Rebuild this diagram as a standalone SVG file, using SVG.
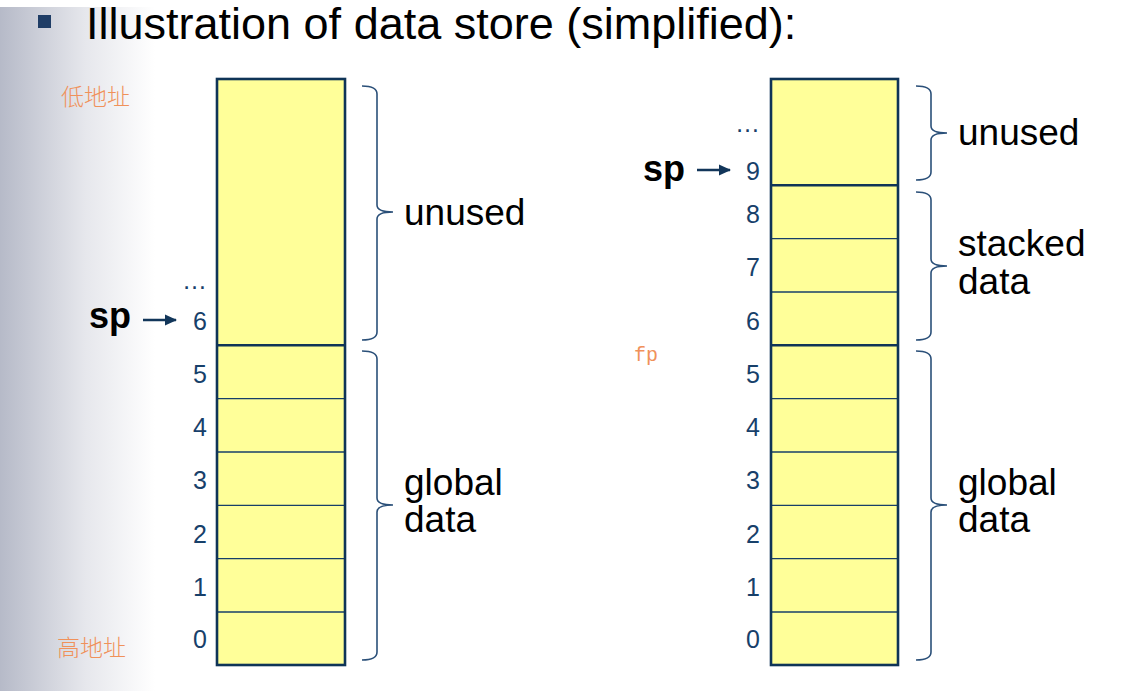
<svg xmlns="http://www.w3.org/2000/svg" width="1137" height="691" viewBox="0 0 1137 691">
<defs>
<linearGradient id="bg" x1="0" y1="0" x2="1" y2="0">
<stop offset="0" stop-color="#b6bac8"/>
<stop offset="0.55" stop-color="#e6e7ec"/>
<stop offset="1" stop-color="#ffffff"/>
</linearGradient>
<marker id="ah" viewBox="0 0 12 12" refX="11" refY="6" markerWidth="12" markerHeight="12" orient="auto" markerUnits="userSpaceOnUse">
<path d="M0,0.5 L12,6 L0,11.5 z" fill="#12365a"/>
</marker>
<style>
.outer{fill:none;stroke:#0f3457;stroke-width:2.6}
.thick{stroke:#0f3457;stroke-width:2.6}
.thin{stroke:#173f68;stroke-width:1.3}
.num{font-family:"Liberation Sans",Arial,sans-serif;font-size:25px;fill:#17406a;text-anchor:end}
.lbl{font-family:"Liberation Sans",Arial,sans-serif;font-size:37px;fill:#000}
.sp{font-family:"Liberation Sans",Arial,sans-serif;font-size:36px;font-weight:bold;fill:#000}
.cn{font-family:"Noto Sans CJK SC",sans-serif;font-size:23px;font-weight:300;fill:#f0915a}
.brace{fill:none;stroke:#2b5079;stroke-width:1.6}
.arrow{stroke:#12365a;stroke-width:2.4;fill:none}
</style>
</defs>
<rect x="0" y="0" width="1137" height="691" fill="#fff"/>
<rect x="0" y="7" width="155" height="684" fill="url(#bg)"/>

<g id="title">
<rect x="38" y="15" width="13" height="13" fill="#1f3d66"/>
<text x="86" y="39" font-family="Liberation Sans,Arial,sans-serif" font-size="45" fill="#000">Illustration of data store (simplified):</text>
</g>

<g id="addr-labels">
<text class="cn" x="61" y="105">低地址</text>
<text class="cn" x="57" y="656">高地址</text>
<text x="634" y="361" font-family="Liberation Mono,monospace" font-size="20" fill="#f0915a">fp</text>
</g>

<g id="left-stack">
<rect x="217" y="79" width="128" height="586" fill="#ffff99"/>
<line class="thin" x1="217" y1="398.7" x2="345" y2="398.7"/>
<line class="thin" x1="217" y1="452" x2="345" y2="452"/>
<line class="thin" x1="217" y1="505.3" x2="345" y2="505.3"/>
<line class="thin" x1="217" y1="558.7" x2="345" y2="558.7"/>
<line class="thin" x1="217" y1="612" x2="345" y2="612"/>
<line class="thick" x1="217" y1="345.3" x2="345" y2="345.3"/>
<rect class="outer" x="217" y="79" width="128" height="586"/>
<text class="num" x="207" y="289">…</text>
<text class="num" x="207" y="330">6</text>
<text class="num" x="207" y="383">5</text>
<text class="num" x="207" y="436">4</text>
<text class="num" x="207" y="489">3</text>
<text class="num" x="207" y="543">2</text>
<text class="num" x="207" y="596">1</text>
<text class="num" x="207" y="648">0</text>
<text class="sp" x="89" y="328">sp</text>
<line class="arrow" x1="143" y1="320" x2="176" y2="320" marker-end="url(#ah)"/>
</g>

<g id="right-stack">
<rect x="771" y="79" width="127" height="586" fill="#ffff99"/>
<line class="thin" x1="771" y1="238.7" x2="898" y2="238.7"/>
<line class="thin" x1="771" y1="292" x2="898" y2="292"/>
<line class="thin" x1="771" y1="398.7" x2="898" y2="398.7"/>
<line class="thin" x1="771" y1="452" x2="898" y2="452"/>
<line class="thin" x1="771" y1="505.3" x2="898" y2="505.3"/>
<line class="thin" x1="771" y1="558.7" x2="898" y2="558.7"/>
<line class="thin" x1="771" y1="612" x2="898" y2="612"/>
<line class="thick" x1="771" y1="185.3" x2="898" y2="185.3"/>
<line class="thick" x1="771" y1="345.3" x2="898" y2="345.3"/>
<rect class="outer" x="771" y="79" width="127" height="586"/>
<text class="num" x="760" y="132">…</text>
<text class="num" x="760" y="180">9</text>
<text class="num" x="760" y="223">8</text>
<text class="num" x="760" y="276">7</text>
<text class="num" x="760" y="330">6</text>
<text class="num" x="760" y="383">5</text>
<text class="num" x="760" y="436">4</text>
<text class="num" x="760" y="489">3</text>
<text class="num" x="760" y="543">2</text>
<text class="num" x="760" y="596">1</text>
<text class="num" x="760" y="648">0</text>
<text class="sp" x="643" y="181">sp</text>
<line class="arrow" x1="697" y1="170" x2="730" y2="170" marker-end="url(#ah)"/>
</g>

<g id="connectors">
<path class="brace" d="M362,86 Q377,86 377,94 L377,205 Q377,212 393,212 Q377,212 377,219 L377,332 Q377,340 362,340"/>
<path class="brace" d="M362,351 Q377,351 377,359 L377,498 Q377,505 393,505 Q377,505 377,512 L377,652 Q377,660 362,660"/>
<path class="brace" d="M916,86 Q931,86 931,94 L931,126 Q931,133 947,133 Q931,133 931,140 L931,172 Q931,180 916,180"/>
<path class="brace" d="M916,192 Q931,192 931,200 L931,259 Q931,266 947,266 Q931,266 931,273 L931,332 Q931,340 916,340"/>
<path class="brace" d="M916,351 Q931,351 931,359 L931,498 Q931,505 947,505 Q931,505 931,512 L931,652 Q931,660 916,660"/>
</g>

<g id="labels">
<text class="lbl" x="404" y="225">unused</text>
<text class="lbl" x="404" y="495">global</text>
<text class="lbl" x="404" y="532">data</text>
<text class="lbl" x="958" y="145">unused</text>
<text class="lbl" x="958" y="256">stacked</text>
<text class="lbl" x="958" y="294">data</text>
<text class="lbl" x="958" y="495">global</text>
<text class="lbl" x="958" y="532">data</text>
</g>
</svg>
